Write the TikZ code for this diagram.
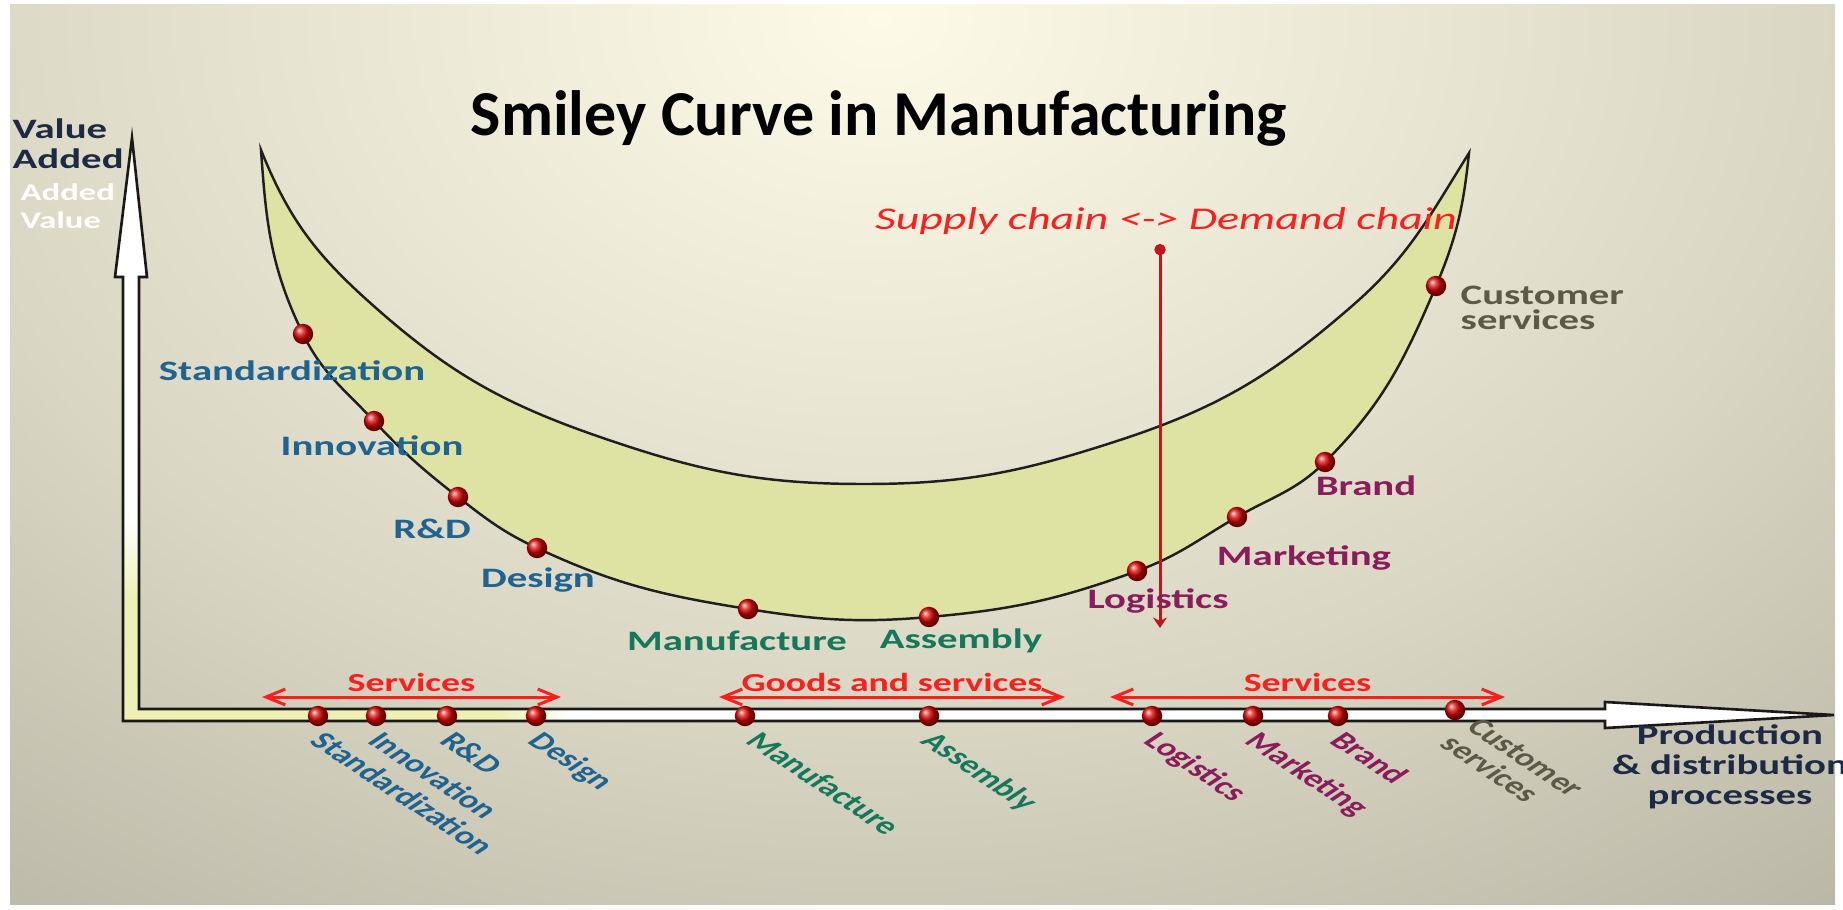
\documentclass[tikz,border=0pt]{standalone}
\usepackage{fontspec}
\setmainfont{Carlito}
\newfontfamily\widefont[FakeStretch=1.45]{Carlito}
\usetikzlibrary{arrows.meta,calc}

\definecolor{bgtop}{HTML}{FDFAE8}
\definecolor{bgmid}{HTML}{D9D6C4}
\definecolor{bgedge}{HTML}{A3A090}
\definecolor{fillyel}{HTML}{DEE2A3}
\definecolor{axisyel}{HTML}{EEF0B4}
\definecolor{lblblue}{HTML}{1F6391}
\definecolor{lblgreen}{HTML}{16785A}
\definecolor{lblpurple}{HTML}{8A1C5B}
\definecolor{lblgrey}{HTML}{5B5A49}
\definecolor{lblnavy}{HTML}{1C2A44}
\definecolor{redtxt}{HTML}{FF1E1E}
\definecolor{redline}{HTML}{C4141C}

\pgfdeclareradialshading{glow}{\pgfpoint{0bp}{0bp}}{color(0bp)=(bgtop); color(12bp)=(bgmid); color(25bp)=(bgedge); color(50bp)=(bgedge)}

\begin{document}
\begin{tikzpicture}[
    x=0.01cm, y=-0.01cm,
    dot/.style={
        circle,
        inner sep=0pt,
        minimum size=5.8pt,
        shading=ball,
        ball color=red!85!black
    },
    curve label/.style={
        font=\widefont\bfseries\fontsize{8}{8.5}\selectfont,
        inner sep=0pt,
        anchor=base
    },
    axis label/.style={
        font=\widefont\bfseries\fontsize{8}{8.5}\selectfont,
        text=lblnavy,
        inner sep=0pt
    },
    tilted/.style={
        font=\bfseries\fontsize{7}{7}\selectfont,
        inner sep=0pt,
        rotate=-45,
        transform shape,
        anchor=north west
    },
    span/.style={
        draw=redtxt,
        line width=0.85pt,
        <->,
        >={Straight Barb[length=5.5pt,width=4.5pt]}
    },
    span label/.style={
        font=\widefont\bfseries\fontsize{7.4}{7.4}\selectfont,
        text=redtxt,
        inner sep=0pt,
        midway,
        above=1pt
    },
    crescent/.style={
        fill=fillyel,
        draw=black!88,
        line width=0.7pt
    },
    axisline/.style={
        draw=black!90,
        line width=0.75pt,
        fill=white
    }
]

% Background
\useasboundingbox (0,0) rectangle (1843,909);
\fill[white] (0,0) rectangle (1843,909);
\begin{scope}
    \clip (10,4) rectangle (1835,904);
    \shade[shading=glow] (880,20) ellipse (20cm and 14.5cm);
\end{scope}

% Title
\node[font=\bfseries\fontsize{18.2}{20}\selectfont, anchor=base, inner sep=0pt] (title) at (879,135) {Smiley Curve in Manufacturing};

% Smiley curve
\coordinate (tl) at (261,150);
\coordinate (p-std) at (303,334);
\coordinate (p-inn) at (374,421);
\coordinate (p-rd) at (458,497);
\coordinate (p-des) at (537,548);
\coordinate (p-man) at (748,609);
\coordinate (p-ass) at (929,617);
\coordinate (p-log) at (1137,571);
\coordinate (p-mkt) at (1237,517);
\coordinate (p-brd) at (1325,462);
\coordinate (p-cus) at (1436,286);
\coordinate (tr) at (1469,153);
\coordinate (q1) at (1352,306);
\coordinate (q2) at (1117,441);
\coordinate (qb) at (864,484);
\coordinate (q3) at (600,437);
\coordinate (q4) at (367,300);

\filldraw[crescent] (tl) to[out=-86, in=116] (p-std) to[out=-64, in=133] (p-inn)
    to[out=-47, in=142] (p-rd) to[out=-38, in=155] (p-des) to[out=-25, in=171] (p-man)
    to[out=-9, in=185] (p-ass) to[out=5, in=200] (p-log) to[out=20, in=210] (p-mkt)
    to[out=30, in=225] (p-brd) to[out=45, in=247] (p-cus) to[out=67, in=264] (tr)
    to[out=-122, in=41] (q1) to[out=221, in=18] (q2) to[out=198, in=0] (qb)
    to[out=180, in=-19] (q3) to[out=161, in=-42] (q4) to[out=138, in=-68] (tl) -- cycle;

% Supply chain <-> Demand chain
\node[font=\widefont\itshape\fontsize{9}{9}\selectfont, text=redtxt, anchor=base, inner sep=0pt] (chain) at (1166,229) {Supply chain <-> Demand chain};
\coordinate (sc-top) at (1160,244);
\coordinate (sc-bot) at (1160,628);
\draw[redline, line width=0.85pt, {Circle[length=3.2pt]}-{Stealth[length=3pt,width=4pt]}] (sc-top) -- (sc-bot);

% Axes
\draw[axisline, path picture={
        \fill[axisyel] (123,709) rectangle (501,721);
        \shade[left color=axisyel, right color=white] (500,709) rectangle (570,721);
        \fill[axisyel] (123,721) rectangle (139,599);
        \shade[bottom color=axisyel, top color=white] (123,600) rectangle (139,520);
    }]
    (123,721) -- (1605,721) -- (1605,728) -- (1834,715) -- (1605,702) -- (1605,709)
    -- (139,709) -- (139,277) -- (147,277) -- (132,138) -- (115,277) -- (123,277) -- cycle;

\node[axis label, align=left, anchor=north west] (ylabel) at (12,118) {Value\\Added};
\node[font=\widefont\bfseries\fontsize{6.8}{8}\selectfont, text=white, align=left, anchor=north west, inner sep=0pt] (ynote) at (20,183) {Added\\Value};
\node[axis label, align=center, anchor=north] (xlabel) at (1730,724) {Production\\\& distribution\\processes};

% Dots on the curve
\foreach \n in {std,inn,rd,des,man,ass,log,mkt,brd,cus}
    \node[dot] (d-\n) at (p-\n) {};

% Curve labels
\node[curve label, text=lblblue] (l-std) at (292,380) {Standardization};
\node[curve label, text=lblblue] (l-inn) at (372,455) {Innovation};
\node[curve label, text=lblblue] (l-rd) at (432,538) {R\&D};
\node[curve label, text=lblblue] (l-des) at (538,587) {Design};
\node[curve label, text=lblgreen] (l-man) at (737,650) {Manufacture};
\node[curve label, text=lblgreen] (l-ass) at (961,648) {Assembly};
\node[curve label, text=lblpurple] (l-log) at (1158,608) {Logistics};
\node[curve label, text=lblpurple] (l-mkt) at (1304,565) {Marketing};
\node[curve label, text=lblpurple] (l-brd) at (1366,495) {Brand};
\node[curve label, text=lblgrey, align=left, anchor=north west, font=\widefont\bfseries\fontsize{8}{7.2}\selectfont] (l-cus) at (1460,285) {Customer\\services};

% Dots on the axis
\foreach \n/\x in {std/318,inn/376,rd/447,des/536,man/745,ass/929,log/1152,mkt/1253,brd/1338}
    \node[dot] (b-\n) at (\x,716) {};
\node[dot] (b-cus) at (1455,710) {};

% Tilted labels under the axis
\begin{scope}[xscale=1.5]
\node[tilted, text=lblblue] (t-std) at ($(b-std)+(6,13)$) {Standardization};
\node[tilted, text=lblblue] (t-inn) at ($(b-inn)+(6,13)$) {Innovation};
\node[tilted, text=lblblue] (t-rd) at ($(b-rd)+(6,13)$) {R\&D};
\node[tilted, text=lblblue] (t-des) at ($(b-des)+(6,13)$) {Design};
\node[tilted, text=lblgreen] (t-man) at ($(b-man)+(12,13)$) {Manufacture};
\node[tilted, text=lblgreen] (t-ass) at ($(b-ass)+(6,13)$) {Assembly};
\node[tilted, text=lblpurple] (t-log) at ($(b-log)+(6,13)$) {Logistics};
\node[tilted, text=lblpurple] (t-mkt) at ($(b-mkt)+(6,13)$) {Marketing};
\node[tilted, text=lblpurple] (t-brd) at ($(b-brd)+(6,13)$) {Brand};
\node[tilted, text=lblgrey, align=left] (t-cus) at ($(b-cus)+(18,6)$) {Customer\\services};
\end{scope}

% Spans above the axis
\coordinate (s1-l) at (262,697);
\coordinate (s1-r) at (561,697);
\coordinate (s2-l) at (719,697);
\coordinate (s2-r) at (1065,697);
\coordinate (s3-l) at (1110,697);
\coordinate (s3-r) at (1505,697);
\draw[span] (s1-l) -- node[span label] (s1) {Services} (s1-r);
\draw[span] (s2-l) -- node[span label] (s2) {Goods and services} (s2-r);
\draw[span] (s3-l) -- node[span label] (s3) {Services} (s3-r);

\end{tikzpicture}
\end{document}
